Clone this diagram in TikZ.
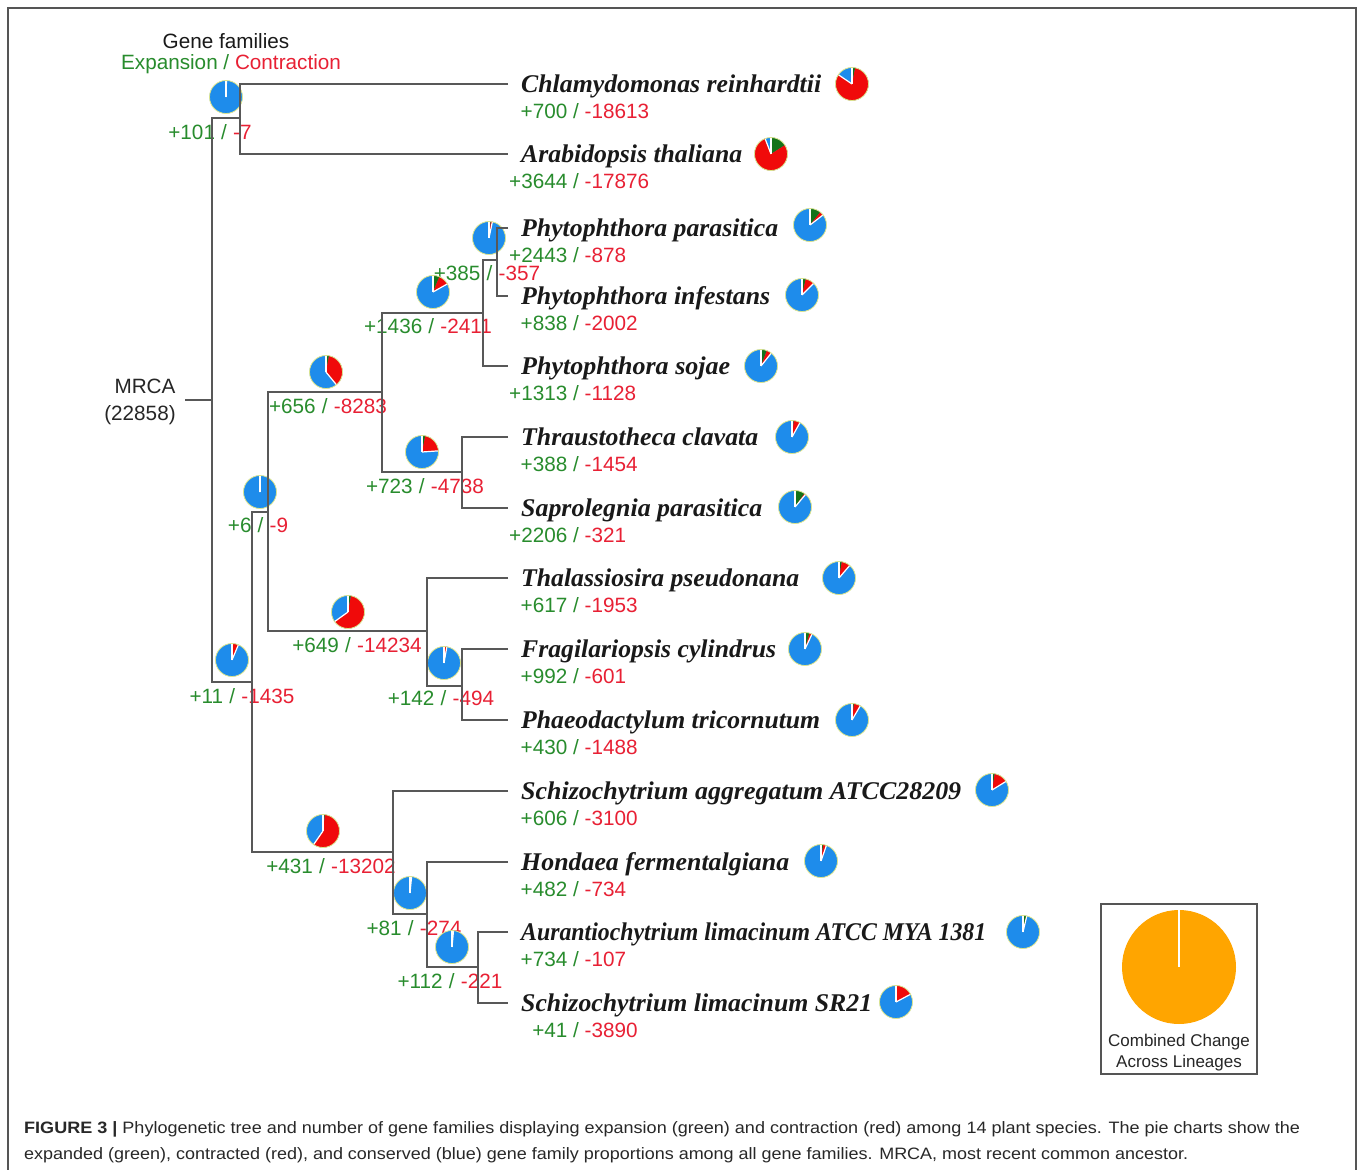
\documentclass[tikz,border=0pt]{standalone}
\usepackage{fontspec}
\usepackage{graphicx}
\setmainfont{Liberation Serif}
\setsansfont{Liberation Sans}
\definecolor{expgreen}{RGB}{40,140,45}
\definecolor{conred}{RGB}{232,32,52}
\definecolor{pieblue}{RGB}{30,140,235}
\definecolor{piered}{RGB}{240,10,10}
\definecolor{piegreen}{RGB}{20,115,25}
\definecolor{pieedge}{RGB}{220,228,140}
\definecolor{treegray}{RGB}{88,88,88}
\definecolor{framegray}{RGB}{85,85,85}
\definecolor{pieorange}{RGB}{255,165,0}
\definecolor{captxt}{RGB}{40,40,40}
\newlength\fitlen
\newcommand\fitw[2]{\settowidth\fitlen{#2}\pgfmathsetmacro\fitsx{#1/\fitlen}\scalebox{\fitsx}[1]{#2}}
\newcommand\gl[2]{\makebox[0pt][r]{\color{expgreen}#1\hspace{0.417em}}\makebox[0pt][c]{\color{expgreen}/}\makebox[0pt][l]{\color{conred}\hspace{0.417em}#2}}
\newcommand\gpie[4]{%
  \edef\aG{\fpeval{round(-90+360*#2/22858,3)}}%
  \edef\aR{\fpeval{round(-90+360*(#2+#3)/22858,3)}}%
  \fill[pieblue] (#1) circle[radius=#4];
  \fill[piegreen] (#1) -- ++(-90:#4) arc[start angle=-90,end angle=\aG,radius=#4] -- cycle;
  \fill[piered] (#1) -- ++(\aG:#4) arc[start angle=\aG,end angle=\aR,radius=#4] -- cycle;
  \draw[white,line width=1.2] (#1) -- ++(-90:#4);
  \draw[white,line width=1.2] (#1) -- ++(\aR:#4);
  \draw[pieedge,line width=0.8] (#1) circle[radius=#4];
}
\begin{document}
\begin{tikzpicture}[x=1pt,y=-1pt,
  branch/.style={draw=treegray,line width=2},
  lbl/.style={font=\sffamily\fontsize{20.7}{24}\selectfont,inner sep=0pt},
  hdr/.style={font=\sffamily\fontsize{20.7}{24}\selectfont,inner sep=0pt,anchor=base},
  spn/.style={font=\rmfamily\bfseries\itshape\fontsize{25.5}{30}\selectfont,anchor=base west,inner sep=0pt,text={black!90}},
  captext/.style={font=\sffamily\fontsize{16.5}{20}\selectfont,anchor=base west,inner sep=0pt,text=captxt},
  legtext/.style={font=\sffamily\fontsize{17}{20}\selectfont,anchor=base,inner sep=0pt,text={black!85}}]
\useasboundingbox (0,0) rectangle (1358,1170);
\fill[white] (0,0) rectangle (1358,1170);
\draw[framegray,line width=2] (8,1180) -- (8,8) -- (1356,8) -- (1356,1180);

% header
\node[hdr,text={black!90}] (hd1) at (226,48.5) {Gene families};
\node[hdr] (hd2) at (231,69.5) {\textcolor{expgreen}{Expansion / }\textcolor{conred}{Contraction}};
\node[hdr,text={black!85}] (mrca1) at (145,393.5) {MRCA};
\node[hdr,text={black!85}] (mrca2) at (140,420.5) {(22858)};

% tree coordinates
\coordinate (rootstub) at (185,400);
\coordinate (root) at (212,400);
\coordinate (nA) at (240,118);
\coordinate (nB) at (252,682);
\coordinate (nC) at (268,512);
\coordinate (nD) at (382,392);
\coordinate (nE) at (483,313);
\coordinate (nF) at (497,260);
\coordinate (nG) at (462,472);
\coordinate (nH) at (427,631);
\coordinate (nH2) at (462,686);
\coordinate (nI) at (393,852);
\coordinate (nJ) at (427,914);
\coordinate (nK) at (478,967);

% leaves
\foreach \i/\y/\nm/\w/\e/\c/\px/\py in {
 1/84/Chlamydomonas reinhardtii/300/700/18613/852/84,
 2/154/Arabidopsis thaliana/221/3644/17876/771/154,
 3/228/Phytophthora parasitica/257/2443/878/810/225,
 4/296/Phytophthora infestans/249/838/2002/802/295,
 5/366/Phytophthora sojae/209/1313/1128/761/366,
 6/437/Thraustotheca clavata/237/388/1454/792/437,
 7/508/Saprolegnia parasitica/241/2206/321/795/507,
 8/578/Thalassiosira pseudonana/278/617/1953/839/578,
 9/649/Fragilariopsis cylindrus/255/992/601/805/649,
 10/720/Phaeodactylum tricornutum/299/430/1488/852/720,
 11/791/Schizochytrium aggregatum ATCC28209/440/606/3100/992/790,
 12/862/Hondaea fermentalgiana/268/482/734/821/861,
 13/932/Aurantiochytrium limacinum ATCC MYA 1381/465/734/107/1023/932,
 14/1003/Schizochytrium limacinum SR21/351/41/3890/896/1002}
{
 \coordinate (l\i) at (508,\y);
 \node[spn] (s\i) at (521,\y+8) {\fitw{\w}{\nm}};
 \node[lbl,anchor=base] (n\i) at (576,\y+34.5) {\gl{+\e}{-\c}};
 \coordinate (q\i) at (\px,\py);
 \gpie{q\i}{\e}{\c}{16.5}
}

% internal pies and labels
\foreach \k/\px/\py/\e/\c/\lx/\ly in {
 A/226/97/101/7/210/132,
 F/489/238/385/357/487/273,
 E/433/292/1436/2411/428/326,
 D/326/372/656/8283/328/406,
 G/422/452/723/4738/425/486,
 C/260/492/6/9/258/525,
 H/348/612/649/14234/357/645,
 B/232/660/11/1435/242/696,
 H2/444/663/142/494/441/698,
 I/323/831/431/13202/331/866,
 J/410/893/81/274/414/928,
 K/452/947/112/221/450/981}
{
 \coordinate (p\k) at (\px,\py);
 \gpie{p\k}{\e}{\c}{16.5}
 \node[lbl,anchor=base] (m\k) at (\lx,\ly+7.5) {\textcolor{expgreen}{+\e\hspace{0.3em}/\hspace{0.3em}}\textcolor{conred}{-\c}};
}

% branches
\draw[branch] (rootstub) -- (root);
\draw[branch] (nA) -| (root) |- (nB);
\draw[branch] (l1) -| (nA) |- (l2);
\draw[branch] (nC) -| (nB) |- (nI);
\draw[branch] (nD) -| (nC) |- (nH);
\draw[branch] (nE) -| (nD) |- (nG);
\draw[branch] (nF) -| (nE) |- (l5);
\draw[branch] (l3) -| (nF) |- (l4);
\draw[branch] (l6) -| (nG) |- (l7);
\draw[branch] (l8) -| (nH) |- (nH2);
\draw[branch] (l9) -| (nH2) |- (l10);
\draw[branch] (l11) -| (nI) |- (nJ);
\draw[branch] (l12) -| (nJ) |- (nK);
\draw[branch] (l13) -| (nK) |- (l14);

% legend
\draw[framegray,line width=1.5] (1101,904) rectangle (1257,1074);
\coordinate (lg) at (1179,967);
\fill[pieorange] (lg) circle[radius=57];
\draw[white,line width=2] (lg) -- ++(0,-57);
\node[legtext] (lg1) at (1179,1046) {Combined Change};
\node[legtext] (lg2) at (1179,1067) {Across Lineages};

% caption
\node[captext] (cap1) at (24,1133) {\fitw{1276}{\textbf{FIGURE 3 |} Phylogenetic tree and number of gene families displaying expansion (green) and contraction (red) among 14 plant species. The pie charts show the}};
\node[captext] (cap2) at (24,1159) {\fitw{1164}{expanded (green), contracted (red), and conserved (blue) gene family proportions among all gene families. MRCA, most recent common ancestor.}};
\end{tikzpicture}
\end{document}
